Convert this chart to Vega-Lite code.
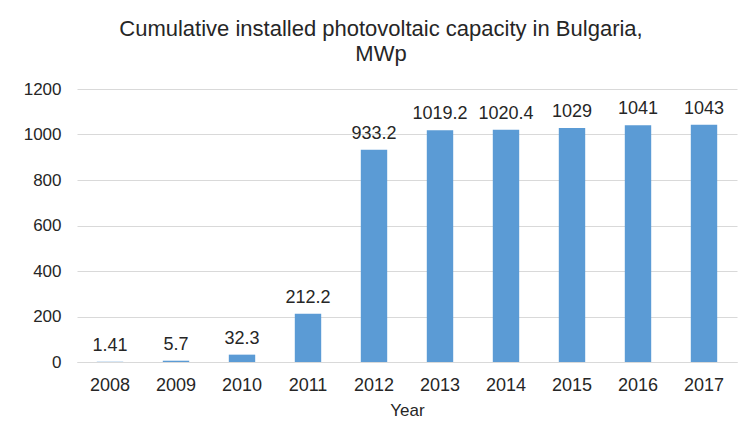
{
  "$schema": "https://vega.github.io/schema/vega-lite/v6.json",
  "width": 660,
  "height": 273,
  "autosize": {"type": "none"},
  "padding": {"left": 77, "top": 89, "right": 5, "bottom": 70},
  "background": "#ffffff",
  "title": {
    "text": ["Cumulative installed photovoltaic capacity in Bulgaria,", "MWp"],
    "font": "Liberation Sans",
    "fontSize": 22,
    "fontWeight": "normal",
    "color": "#262626",
    "anchor": "middle",
    "lineHeight": 25,
    "dx": -26,
    "offset": 14
  },
  "data": {
    "values": [
      {"year": "2008", "capacity": 1.41, "label": "1.41"},
      {"year": "2009", "capacity": 5.7, "label": "5.7"},
      {"year": "2010", "capacity": 32.3, "label": "32.3"},
      {"year": "2011", "capacity": 212.2, "label": "212.2"},
      {"year": "2012", "capacity": 933.2, "label": "933.2"},
      {"year": "2013", "capacity": 1019.2, "label": "1019.2"},
      {"year": "2014", "capacity": 1020.4, "label": "1020.4"},
      {"year": "2015", "capacity": 1029, "label": "1029"},
      {"year": "2016", "capacity": 1041, "label": "1041"},
      {"year": "2017", "capacity": 1043, "label": "1043"}
    ]
  },
  "encoding": {
    "x": {
      "field": "year",
      "type": "ordinal",
      "title": "Year",
      "scale": {"paddingInner": 0.6, "paddingOuter": 0.3},
      "axis": {
        "labelAngle": 0,
        "labelFont": "Liberation Sans",
        "labelFontSize": 18,
        "labelColor": "#262626",
        "labelPadding": 14,
        "ticks": false,
        "domain": true,
        "domainColor": "#d9d9d9",
        "titleFont": "Liberation Sans",
        "titleFontSize": 17,
        "titleFontWeight": "normal",
        "titleColor": "#262626",
        "titlePadding": 8
      }
    },
    "y": {
      "field": "capacity",
      "type": "quantitative",
      "title": null,
      "scale": {"domain": [0, 1200], "nice": false},
      "axis": {
        "values": [0, 200, 400, 600, 800, 1000, 1200],
        "format": "d",
        "labelFont": "Liberation Sans",
        "labelFontSize": 17,
        "labelColor": "#262626",
        "labelPadding": 16,
        "ticks": false,
        "domain": false,
        "gridColor": "#d9d9d9",
        "gridWidth": 1
      }
    }
  },
  "layer": [
    {"mark": {"type": "bar", "color": "#5b9bd5"}},
    {
      "mark": {
        "type": "text",
        "font": "Liberation Sans",
        "fontSize": 18,
        "color": "#262626",
        "baseline": "alphabetic",
        "dy": -11
      },
      "encoding": {"text": {"field": "label"}}
    }
  ],
  "config": {"view": {"stroke": null}}
}
